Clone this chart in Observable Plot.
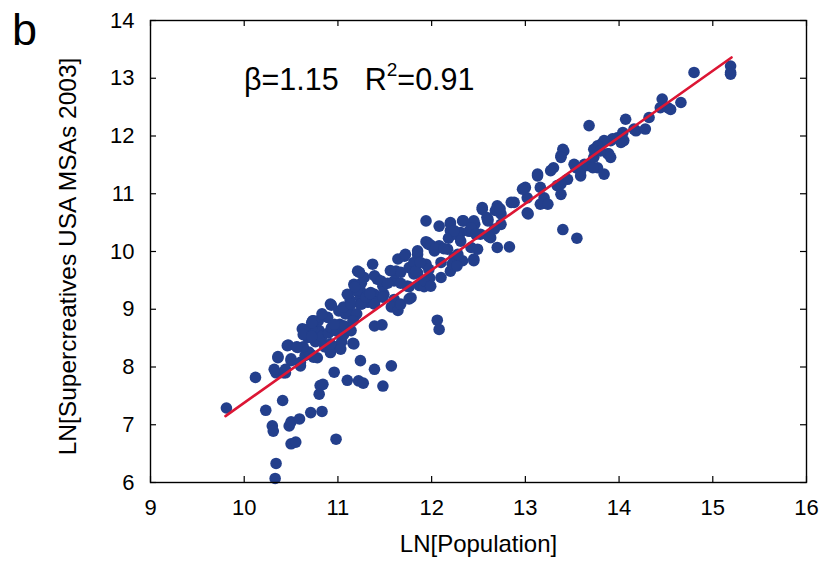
<!DOCTYPE html>
<html>
<head>
<meta charset="utf-8">
<script src="https://cdn.jsdelivr.net/npm/d3@7"></script>
<script src="https://cdn.jsdelivr.net/npm/@observablehq/plot@0.6"></script>
<style>
  html, body { margin: 0; padding: 0; background: #fff; }
  #wrap { position: relative; width: 826px; height: 561px; font-family: "Liberation Sans", Arial, sans-serif; }
  #panel { position: absolute; left: 12px; top: 5px; font-size: 45px; line-height: 1.1; color: #000; }
  #annot { position: absolute; left: 244px; top: 64px; font-size: 30.5px; line-height: 1; color: #000; white-space: nowrap; }
  #annot sup { font-size: 19px; position: relative; top: -4px; vertical-align: top; }
</style>
</head>
<body>
<div id="wrap">
  <div id="chart"></div>
  <div id="panel">b</div>
  <div id="annot">β=1.15<span style="display:inline-block;width:26px"></span>R<sup>2</sup>=0.91</div>
</div>
<script>
// LN[Population] and LN[Supercreatives] for USA MSAs 2003
const popX = [
 9.81,10.12,10.23,10.30,10.31,10.34,10.33,10.41,10.48,10.50,10.50,10.55,10.59,10.71,10.83,10.80,10.81,10.84,10.96,10.98,
 11.10,11.22,11.27,11.24,11.39,11.48,11.57,11.39,11.47,12.06,12.08,12.83,13.40,13.55,
 10.34,10.36,10.42,10.44,10.47,10.50,10.57,10.60,10.36,10.32,10.44,10.46,10.50,10.60,10.71,10.78,10.92,10.65,10.69,10.63,
 10.56,10.74,10.86,10.92,10.97,11.04,11.16,11.17,11.03,10.92,10.82,10.68,10.62,10.73,10.80,10.76,10.83,10.90,10.93,10.99,
 11.02,11.06,11.11,11.07,11.14,11.17,10.89,10.96,10.92,11.01,11.08,10.72,10.65,10.63,10.72,10.79,10.74,10.83,10.72,10.93,
 11.11,11.06,11.13,11.20,11.16,
 11.19,11.24,11.32,11.39,11.10,11.17,11.24,11.35,11.49,11.60,11.39,11.24,11.14,11.25,11.39,11.30,11.34,11.20,11.25,11.18,
 11.21,11.28,11.42,11.48,11.60,11.74,11.78,11.37,11.23,11.39,11.46,11.64,11.71,11.62,11.81,11.85,11.96,11.94,11.87,11.48,
 11.57,11.64,11.67,11.76,11.76,11.67,11.53,11.62,11.72,11.76,11.67,11.56,11.81,11.85,11.92,11.98,11.97,11.83,11.92,11.99,
 12.10,12.20,11.88,11.85,11.94,12.08,12.20,12.33,11.96,12.03,12.08,12.17,12.10,12.24,12.33,11.94,11.99,12.04,12.13,12.22,
 12.27,12.45,12.20,12.31,12.42,12.52,12.63,12.70,12.18,12.27,12.40,12.46,12.45,12.60,12.74,12.54,12.70,12.88,13.00,13.13,
 12.20,12.24,12.31,12.42,12.49,12.28,12.45,12.34,12.42,12.47,12.67,12.54,12.60,12.74,12.61,12.59,12.68,12.73,
 12.85,13.02,13.02,12.99,13.03,12.97,13.16,13.20,13.16,13.24,13.34,13.38,13.13,13.30,13.27,13.40,13.38,13.54,13.63,13.59,
 13.73,13.81,13.88,13.91,13.98,14.05,13.77,13.84,13.41,13.38,13.52,13.59,13.66,13.72,13.45,13.38,13.93,13.84,13.77,13.73,
 13.89,13.91,13.80,13.68,14.02,14.04,14.07,14.18,14.16,14.28,14.32,14.44,14.46,14.52,14.55,14.66,14.80,15.19,15.19,15.19
];
const creativesY = [
 7.29,7.82,7.25,6.98,6.89,6.33,6.07,7.42,6.98,7.05,6.67,6.70,7.10,7.21,7.23,7.53,7.68,7.70,7.91,6.75,
 7.77,7.76,7.72,8.11,7.96,7.67,8.02,8.71,8.73,8.81,8.65,10.08,10.38,10.23,
 7.90,8.16,7.90,7.90,8.38,8.11,8.34,8.02,8.18,7.96,7.96,8.37,8.14,8.08,8.22,8.16,8.25,8.20,8.26,8.35,
 8.35,8.17,8.35,8.27,8.35,8.44,8.41,8.40,8.31,8.40,8.45,8.51,8.66,8.80,8.63,8.44,8.53,8.59,8.68,8.62,
 8.74,8.56,8.65,8.71,8.63,8.86,8.86,8.74,9.09,8.97,8.92,8.68,8.65,8.56,8.53,8.80,8.80,8.92,8.77,9.07,
 8.98,9.04,9.16,8.92,8.80,
 9.32,9.20,9.12,9.26,9.26,9.43,9.32,9.29,9.26,9.17,9.12,9.09,9.09,9.09,9.09,9.21,9.27,9.33,9.45,9.39,
 9.66,9.55,9.52,9.40,9.49,9.40,9.20,9.78,9.64,9.58,9.49,9.87,9.92,9.66,9.61,9.95,10.13,9.78,9.41,9.21,
 9.04,8.98,9.09,9.18,9.39,9.45,9.45,9.63,9.95,9.72,9.64,9.67,9.81,9.63,9.39,9.54,9.69,9.66,9.49,9.40,
 9.55,9.66,9.81,10.01,10.53,10.44,10.48,10.53,10.15,10.01,10.10,10.04,9.81,9.90,9.84,10.17,10.11,10.05,10.05,9.78,
 9.75,9.84,10.36,10.33,10.36,10.30,10.24,10.07,10.23,10.29,10.35,10.47,10.53,10.53,10.47,10.76,10.79,10.85,11.11,11.31,
 10.50,10.36,10.18,10.07,10.04,9.95,9.87,10.53,10.41,10.30,10.39,10.73,10.56,10.65,10.26,10.59,10.71,10.74,
 10.85,10.93,10.67,11.09,10.65,11.08,11.11,10.93,10.82,10.82,11.14,10.99,11.34,11.45,11.40,11.77,11.66,11.45,11.51,11.31,
 11.63,11.86,11.69,11.92,11.97,11.92,11.45,11.34,11.74,11.63,11.51,11.40,11.49,11.45,11.25,11.17,11.95,11.92,11.83,11.77,
 11.69,11.63,11.74,12.18,11.89,12.06,12.29,12.09,12.12,12.12,12.32,12.49,12.64,12.49,12.46,12.58,13.10,13.21,13.10,13.07
];
// fitted scaling line (beta = 1.15), end points
const fitX = [9.80, 15.20];
const fitY = [7.15, 13.36];
const xTicks = [9, 10, 11, 12, 13, 14, 15, 16];
const yTicks = [6, 7, 8, 9, 10, 11, 12, 13, 14];
const xLabel = "LN[Population]";
const yLabel = "LN[Supercreatives USA MSAs 2003]";

const points = popX.map((x, i) => ({x, y: creativesY[i]}));
const fit = fitX.map((x, i) => ({x, y: fitY[i]}));

const W = 826, H = 561, mT = 20, mB = 79, mL = 150, mR = 20;
const plotW = W - mL - mR, plotH = H - mT - mB;
const tickLen = 6;

const chart = Plot.plot({
  width: W,
  height: H,
  marginTop: mT,
  marginBottom: mB,
  marginLeft: mL,
  marginRight: mR,
  style: {fontSize: "21px", fontFamily: "'Liberation Sans', Arial, sans-serif", color: "#000", background: "#fff", overflow: "visible"},
  x: {domain: [9, 16]},
  y: {domain: [6, 14]},
  marks: [
    Plot.dot(points, {x: "x", y: "y", r: 5.8, fill: "#233f8c", stroke: "none"}),
    Plot.line(fit, {x: "x", y: "y", stroke: "#dc1634", strokeWidth: 2.6}),
    Plot.frame({stroke: "#000", strokeWidth: 1.4}),
    Plot.tickX(xTicks, {x: d => d, insetTop: plotH - tickLen, stroke: "#000", strokeWidth: 1.2}),
    Plot.tickX(xTicks, {x: d => d, insetBottom: plotH - tickLen, stroke: "#000", strokeWidth: 1.2}),
    Plot.tickY(yTicks, {y: d => d, insetLeft: plotW - tickLen, stroke: "#000", strokeWidth: 1.2}),
    Plot.tickY(yTicks, {y: d => d, insetRight: plotW - tickLen, stroke: "#000", strokeWidth: 1.2}),
    Plot.axisX({ticks: xTicks, tickFormat: "d", tickSize: 0, tickPadding: 17, label: null, fontSize: 22}),
    Plot.axisY({ticks: yTicks, tickFormat: "d", tickSize: 0, tickPadding: 16, label: null, fontSize: 22}),
    Plot.text([xLabel], {text: d => d, frameAnchor: "bottom", dy: 62, fontSize: 24, textAnchor: "middle", lineAnchor: "middle"}),
    Plot.text([yLabel], {text: d => d, frameAnchor: "left", dx: -82, dy: 5, rotate: -90, fontSize: 24.5, textAnchor: "middle", lineAnchor: "middle"})
  ]
});
document.getElementById("chart").appendChild(chart);
</script>
</body>
</html>
